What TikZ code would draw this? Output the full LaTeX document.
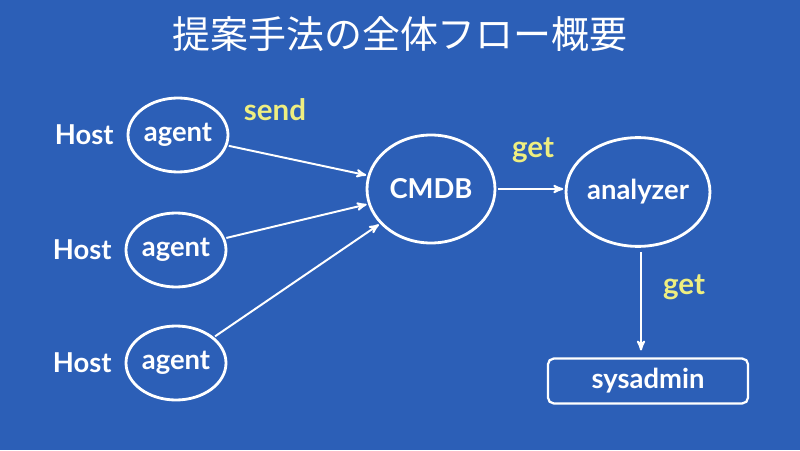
\documentclass[tikz,border=0pt]{standalone}
\usepackage{fontspec}
\setmainfont{Lato}
\newfontfamily\jpfont{Noto Sans CJK JP}
\usetikzlibrary{arrows, positioning, shapes}
\definecolor{slide_blue}{RGB}{44, 95, 183}
\definecolor{slide_yellow}{RGB}{238, 238, 128}
\tikzset {
  proc/.style = {draw=white, line width=2pt, ellipse, text=white, font=\fontsize{19.5}{21}\selectfont\bfseries, text centered, inner sep=0pt},
  agentnode/.style = {proc, minimum width=2.5cm, minimum height=1.85cm},
  bignode/.style = {proc, minimum width=3.25cm, minimum height=2.72cm},
  userbox/.style = {draw=white, line width=1.6pt, rounded corners=4pt, rectangle, text=white, font=\fontsize{19.5}{21}\selectfont\bfseries, minimum width=5cm, minimum height=1.12cm},
  hostlabel/.style = {text=white, font=\fontsize{19.5}{21}\selectfont\bfseries},
  flowlabel/.style = {text=slide_yellow, font=\fontsize{21}{23}\selectfont\bfseries},
  line/.style = {->, line width=1.4pt, color=white, shorten <=1pt, shorten >=1pt, >=stealth'}
}

\begin{document}
\begin{tikzpicture}

    \fill[slide_blue] (0,0) rectangle (20,11.25);
    \useasboundingbox (0,0) rectangle (20,11.25);

    \node[text=white, font=\jpfont\fontsize{27}{30}\selectfont, name=title] (title) at (10,10.4) {提案手法の全体フロー概要};

    \node[agentnode, name=a1] (a1) at (4.45,7.875) {agent};
    \node[agentnode, name=a2] (a2) at (4.4,5.0) {agent};
    \node[agentnode, name=a3] (a3) at (4.4,2.175) {agent};
    \node[hostlabel, name=h1, left=0.2cm of a1] (h1) {Host};
    \node[hostlabel, name=h2, left=0.2cm of a2] (h2) {Host};
    \node[hostlabel, name=h3, left=0.2cm of a3] (h3) {Host};

    \node[bignode, minimum width=3.2cm, minimum height=2.7cm, name=cmdb] (cmdb) at (10.775,6.525) {CMDB};
    \node[bignode, name=ana] (ana) at (15.95,6.45) {analyzer};
    \node[userbox, name=sys] (sys) at (16.2,1.725) {sysadmin};

    \node[flowlabel, name=send] (send) at (6.875,8.5) {send};
    \node[flowlabel, name=get1] (get1) at (13.325,7.5) {get};
    \node[flowlabel, name=get2] (get2) at (17.1,4.075) {get};

    \draw[line] (a1) -- (cmdb);
    \draw[line] (a2) -- (cmdb);
    \draw[line] (a3) -- (cmdb);
    \draw[line] (cmdb.east) -- (ana.west |- cmdb.east);
    \draw[line, shorten <=3pt, shorten >=5pt] (ana.south -| 16.025,0) -- (sys.north -| 16.025,0);

  \end{tikzpicture}
\end{document}
